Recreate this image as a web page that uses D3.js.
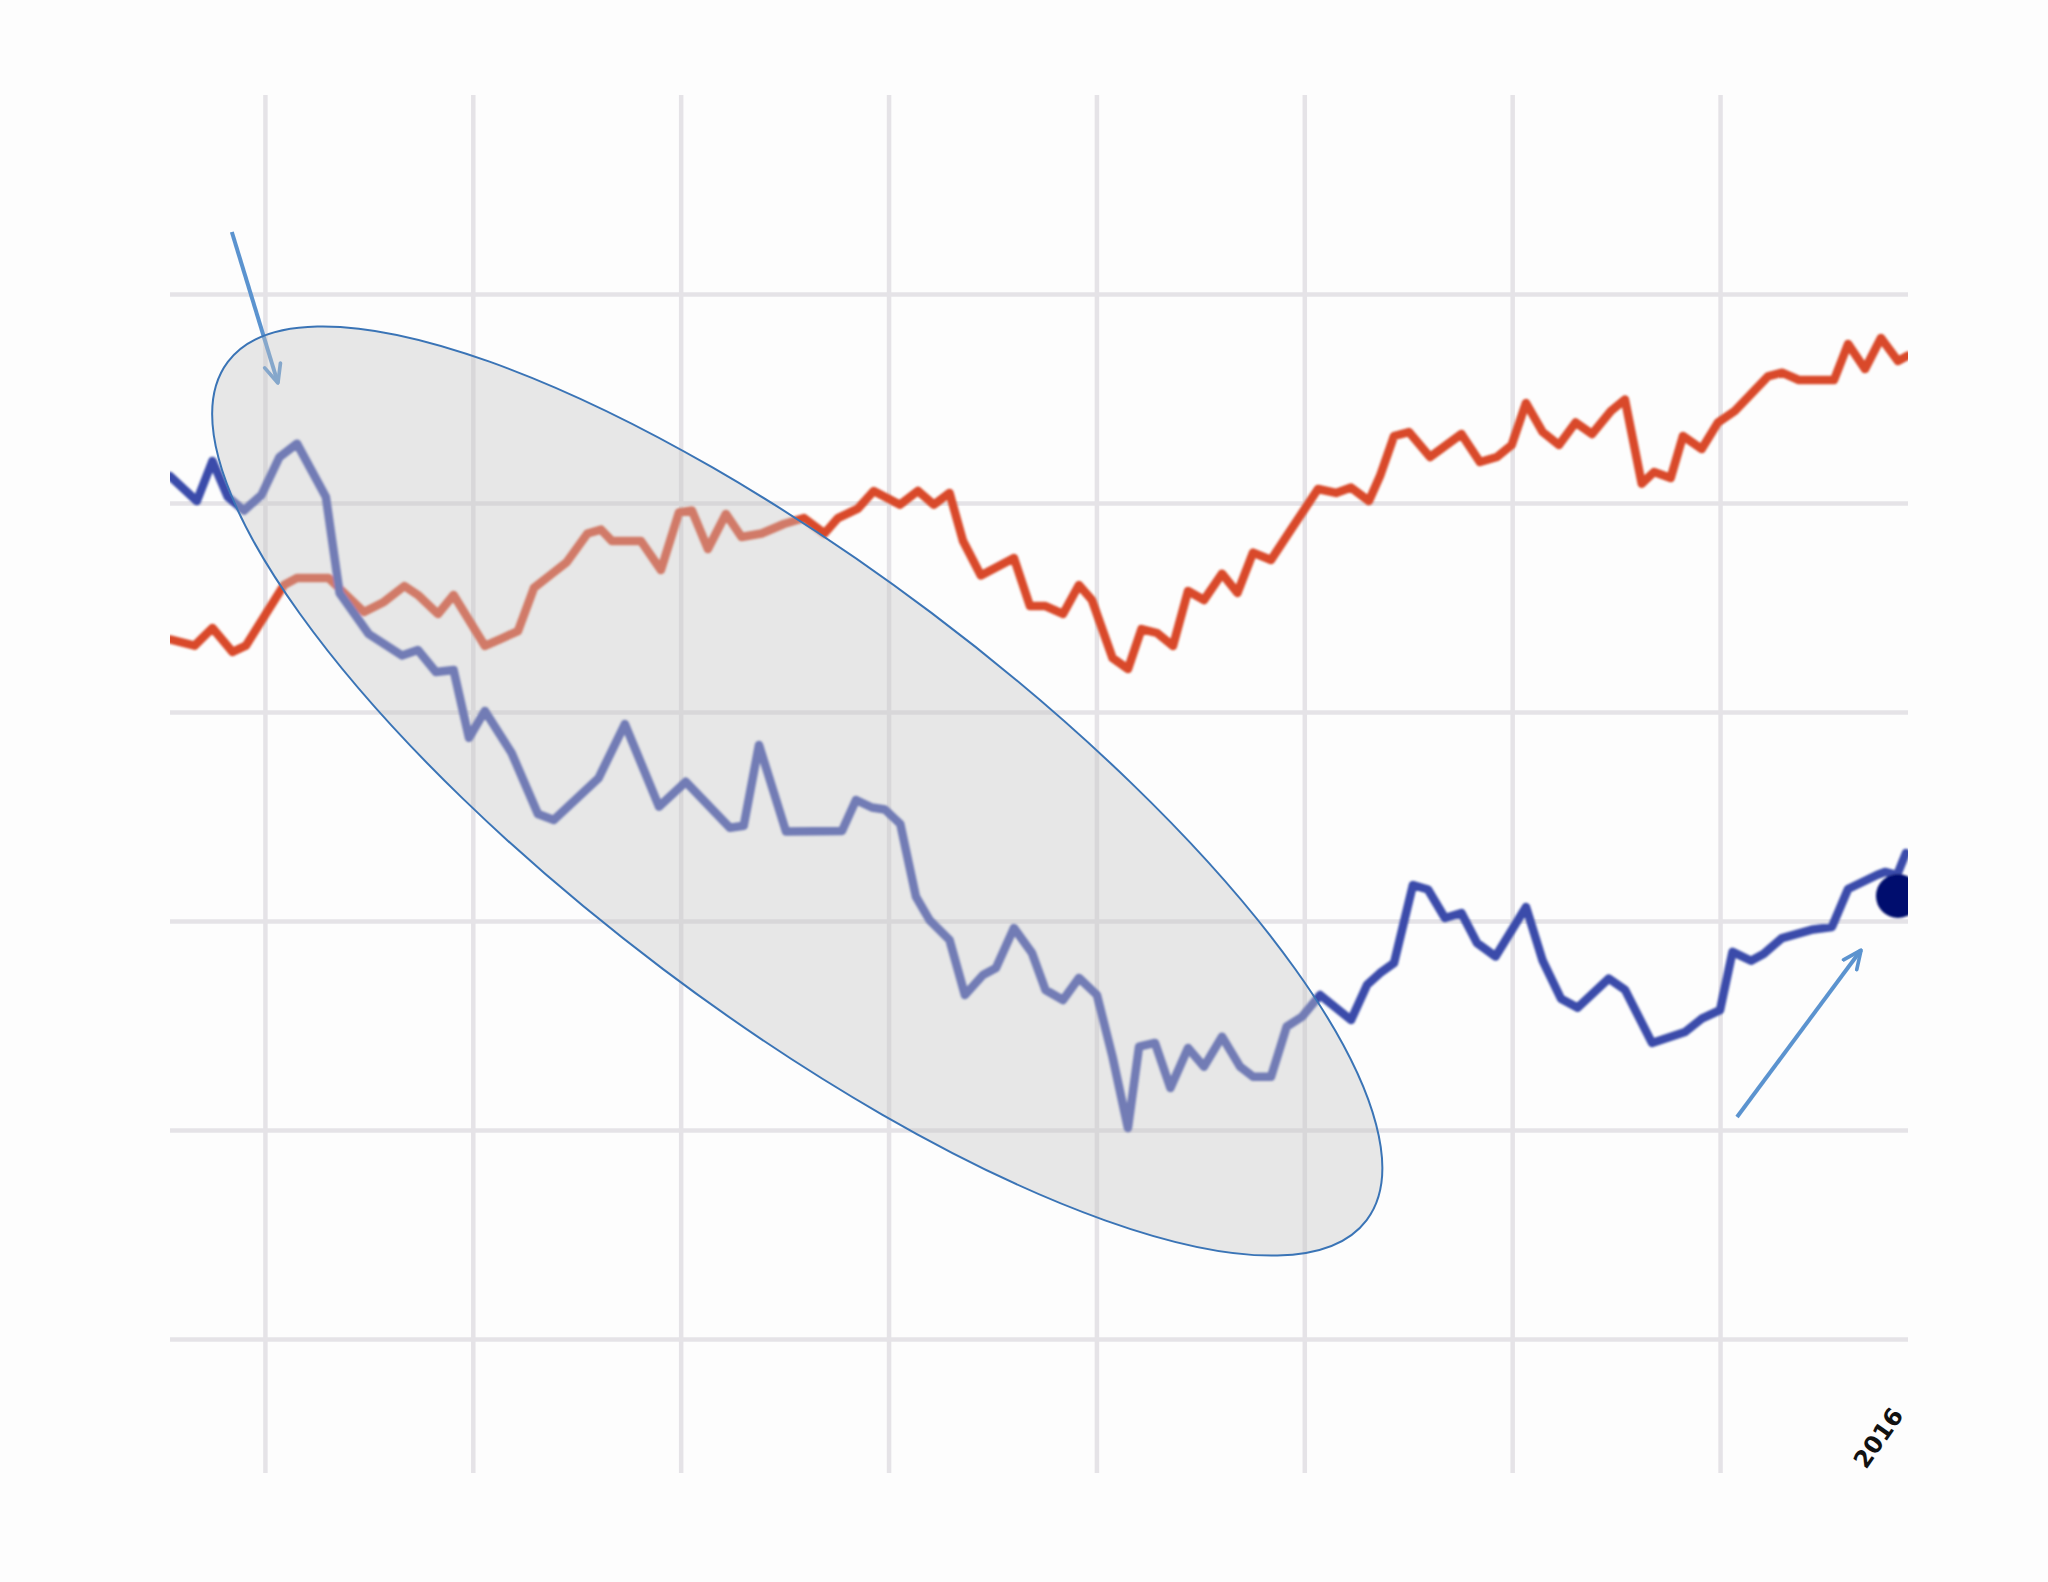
<!DOCTYPE html>
<html>
<head>
<meta charset="utf-8">
<script src="https://cdn.jsdelivr.net/npm/d3@7"></script>
<style>
  html, body { margin: 0; padding: 0; background: #fdfdfd; }
  svg { display: block; }
</style>
</head>
<body>
<svg id="chart" width="2048" height="1582"></svg>
<script>
// ---------------- data ----------------
// x: months since first gridline (gridlines every 12), y: index value
const xDomain = [-5.48, 94.85];
const yDomain = [0, 100];
const xTicks = [0, 12, 24, 36, 48, 60, 72, 84];
const yTicks = [0, 20, 40, 60, 80, 100];

const redSeries = [
  [-5.48,66.94],[-4.06,66.35],[-3.03,68.04],[-1.87,65.74],[-1.10,66.35],[1.10,72.15],[1.85,72.82],[3.67,72.82],
  [5.72,69.57],[6.87,70.53],[8.05,72.06],[8.83,71.20],[9.99,69.38],[10.89,71.20],[12.70,66.32],[13.72,67.08],
  [14.61,67.75],[15.53,71.87],[16.57,73.23],[17.43,74.35],[18.62,77.08],[19.40,77.45],[20.03,76.36],[21.71,76.36],
  [22.86,73.59],[23.90,79.09],[24.65,79.28],[25.57,75.60],[26.61,78.95],[27.51,76.75],[28.67,77.08],[29.96,77.99],
  [31.12,78.56],[32.30,77.08],[33.08,78.56],[34.23,79.46],[35.14,81.15],[36.66,79.84],[37.70,81.15],[38.62,79.84],
  [39.52,80.96],[40.30,76.36],[41.33,73.06],[43.24,74.74],[44.16,70.14],[45.06,70.14],[46.07,69.38],[46.99,72.15],
  [47.74,70.72],[48.93,65.17],[49.82,64.11],[50.60,67.94],[51.50,67.56],[52.42,66.32],[53.29,71.58],[54.21,70.72],
  [55.25,73.24],[56.14,71.39],[57.04,75.25],[58.08,74.55],[59.23,77.45],[60.79,81.34],[61.83,80.96],[62.70,81.48],
  [63.73,80.19],[64.37,82.58],[65.18,86.41],[66.04,86.79],[67.26,84.40],[69.07,86.60],[70.14,83.92],[71.12,84.40],
  [71.97,85.55],[72.80,89.57],[73.76,86.79],[74.70,85.55],[75.66,87.70],[76.61,86.60],[77.70,88.80],[78.51,89.90],
  [79.48,81.85],[80.19,82.97],[81.15,82.39],[81.86,86.41],[82.94,85.17],[83.88,87.70],[84.85,88.80],[86.76,92.11],
  [87.58,92.47],[88.55,91.77],[90.58,91.77],[91.39,95.22],[92.37,92.82],[93.29,95.79],[94.27,93.59],[94.85,94.11]
];

const blueSeries = [
  [-5.48,82.58],[-3.93,80.19],[-3.03,84.02],[-2.14,80.57],[-1.21,79.28],[-0.20,80.77],[0.84,84.40],[1.85,85.68],
  [3.52,80.57],[4.31,71.39],[5.99,67.46],[7.91,65.41],[8.83,65.93],[9.87,63.83],[10.89,64.02],[11.78,57.53],
  [12.70,60.10],[14.24,56.08],[15.76,50.24],[16.68,49.67],[19.26,53.68],[20.78,58.85],[22.75,50.94],[24.29,53.32],
  [26.84,48.93],[27.64,49.11],[28.52,56.84],[30.08,48.56],[33.31,48.61],[34.12,51.58],[35.04,50.86],[35.79,50.67],
  [36.68,49.28],[37.58,42.33],[38.36,40.10],[39.52,38.18],[40.41,32.92],[41.45,34.83],[42.20,35.50],[43.24,39.33],
  [44.28,36.94],[45.06,33.40],[46.07,32.44],[46.99,34.55],[48.03,32.92],[48.93,27.01],[49.82,20.19],[50.46,27.97],
  [51.38,28.33],[52.27,24.02],[53.29,27.85],[54.21,26.06],[55.25,28.93],[56.29,26.06],[57.04,25.10],[58.08,25.10],
  [58.98,29.89],[59.87,30.84],[60.91,32.92],[62.70,30.53],[63.62,33.88],[64.37,35.02],[65.18,35.98],[66.27,43.44],
  [67.14,43.01],[68.12,40.29],[69.07,40.77],[69.97,37.89],[71.04,36.60],[72.80,41.34],[73.76,36.20],[74.82,32.56],
  [75.78,31.71],[77.57,34.49],[78.51,33.43],[80.07,28.33],[81.98,29.38],[82.94,30.65],[84.00,31.48],[84.72,37.05],
  [85.79,36.20],[86.51,36.84],[87.58,38.37],[89.37,39.19],[90.46,39.43],[91.39,43.06],[93.06,44.40],[93.52,44.69],
  [94.22,44.40],[94.73,46.51]
];

const endMarker = [94.27, 42.39];

// annotation anchors (data units)
const arrowStarts = [[-1.91, 105.93], [84.98, 21.24]];
const arrowEnds   = [[0.75, 91.48],   [92.14, 37.22]];
const ellipseCenter = [30.73, 52.44];
const cornerLabel = "2016";

// ---------------- layout ----------------
const svg = d3.select("#chart");
const W = 2048, H = 1582;
const plot = { left: 170, right: 1908, top: 294, bottom: 1339, gridTop: 95, gridBottom: 1473 };

const x = d3.scaleLinear().domain(xDomain).range([plot.left, plot.right]);
const y = d3.scaleLinear().domain(yDomain).range([plot.bottom, plot.top]);

svg.append("rect").attr("width", W).attr("height", H).attr("fill", "#fdfdfd");

const defs = svg.append("defs");
defs.append("clipPath").attr("id", "plotClip")
  .append("rect").attr("x", plot.left).attr("y", 0)
  .attr("width", plot.right - plot.left).attr("height", H);

defs.append("filter").attr("id", "soft")
  .attr("x", "-5%").attr("y", "-5%").attr("width", "110%").attr("height", "110%")
  .append("feGaussianBlur").attr("stdDeviation", 0.9);

defs.append("marker")
  .attr("id", "arrowHead")
  .attr("viewBox", "0 0 12 12")
  .attr("refX", 11).attr("refY", 6)
  .attr("markerUnits", "userSpaceOnUse")
  .attr("markerWidth", 22).attr("markerHeight", 22)
  .attr("orient", "auto")
  .append("path")
  .attr("d", "M1,1.5 L11,6 L1,10.5")
  .attr("fill", "none")
  .attr("stroke", "#5b93cf")
  .attr("stroke-width", 2)
  .attr("stroke-linecap", "round")
  .attr("stroke-linejoin", "round");

// ---------------- gridlines ----------------
const gridColor = "#e5e3e7";
const vGrid = svg.append("g")
  .attr("transform", `translate(0,${plot.gridBottom})`)
  .call(d3.axisBottom(x).tickValues(xTicks)
    .tickSize(-(plot.gridBottom - plot.gridTop)).tickFormat(""));
vGrid.select(".domain").remove();
vGrid.selectAll(".tick line").attr("stroke", gridColor).attr("stroke-width", 4.5);

const hGrid = svg.append("g")
  .attr("transform", `translate(${plot.left},0)`)
  .call(d3.axisLeft(y).tickValues(yTicks)
    .tickSize(-(plot.right - plot.left)).tickFormat(""));
hGrid.select(".domain").remove();
hGrid.selectAll(".tick line").attr("stroke", gridColor).attr("stroke-width", 4.5);

// ---------------- series ----------------
const line = d3.line().x(d => x(d[0])).y(d => y(d[1]));
const gLines = svg.append("g").attr("clip-path", "url(#plotClip)");
const gSoft = gLines.append("g").attr("filter", "url(#soft)");

gSoft.append("path").datum(redSeries)
  .attr("d", line).attr("fill", "none")
  .attr("stroke", "#d9492a").attr("stroke-width", 8.5)
  .attr("stroke-linejoin", "round").attr("stroke-linecap", "round");

gSoft.append("path").datum(blueSeries)
  .attr("d", line).attr("fill", "none")
  .attr("stroke", "#3a4caa").attr("stroke-width", 8.5)
  .attr("stroke-linejoin", "round").attr("stroke-linecap", "round");

gSoft.append("circle")
  .attr("cx", x(endMarker[0])).attr("cy", y(endMarker[1]))
  .attr("r", 22).attr("fill", "#000f6e");

// ---------------- annotations ----------------
const gAnn = svg.append("g");
arrowStarts.forEach((s, i) => {
  const e = arrowEnds[i];
  gAnn.append("line")
    .attr("x1", x(s[0])).attr("y1", y(s[1]))
    .attr("x2", x(e[0])).attr("y2", y(e[1]))
    .attr("stroke", "#5b93cf").attr("stroke-width", 4)
    .attr("marker-end", "url(#arrowHead)");
});

gAnn.append("ellipse")
  .attr("cx", 0).attr("cy", 0)
  .attr("rx", 713).attr("ry", 223)
  .attr("transform", `translate(${x(ellipseCenter[0])},${y(ellipseCenter[1])}) rotate(37)`)
  .attr("fill", "rgb(198,198,198)").attr("fill-opacity", 0.4)
  .attr("stroke", "#3a74b6").attr("stroke-width", 2);

// clipped corner label (partially visible tick label)
svg.append("g").attr("clip-path", "url(#plotClip)")
  .append("text")
  .attr("transform", `translate(${x(94.85) - 42},${plot.gridBottom - 3}) rotate(-55)`)
  .attr("font-family", "DejaVu Sans, sans-serif")
  .attr("font-size", 24).attr("font-weight", "bold")
  .attr("fill", "#111")
  .text(cornerLabel);
</script>
</body>
</html>
